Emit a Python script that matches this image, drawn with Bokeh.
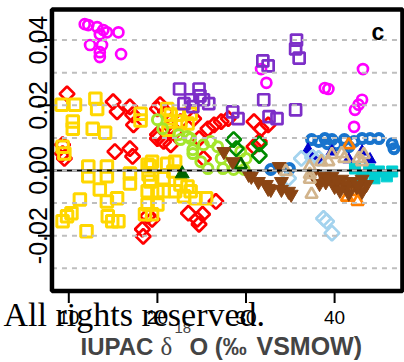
import numpy as np
from bokeh.plotting import figure
from bokeh.models import Label, Range1d
from bokeh.core.properties import value
from bokeh.embed import file_html
from bokeh.resources import INLINE

# ---------------- data ----------------
x_ticks = [10, 20, 30, 40]
x_tick_labels = ["10", "20", "30", "40"]
y_ticks = [-0.02, 0.0, 0.02, 0.04]
y_tick_labels = ["-0.02", "0.00", "0.02", "0.04"]
grid_levels = [-0.03, -0.02, -0.01, 0.0, 0.01, 0.02, 0.03, 0.04]
x_lim = [8.10, 47.66]      # plot box limits (x)
y_lim = [-0.0370, 0.0494]  # plot box limits (y)

magenta_x = [11.8, 12.2, 13.2, 13.9, 14.3, 13.5, 15.6, 12.4, 13.75, 13.5, 13.5, 15.9,
             31.7, 32.3, 38.9, 39.3, 43.2, 43.1, 42.7, 42.3, 42.2]
magenta_y = [0.0449, 0.0446, 0.0440, 0.0431, 0.0424, 0.0418, 0.0424, 0.0385, 0.0385, 0.0363, 0.0348, 0.0357,
             0.0311, 0.0269, 0.0253, 0.0250, 0.0311, 0.0217, 0.0202, 0.0186, 0.0134]

purple_x = [22.5, 24.7, 24.8, 23.75, 25.2, 25.8, 28.5, 29.1, 31.9, 32.5, 32.0, 32.6, 33.5,
            35.7, 35.6, 36.0, 35.6, 23.0, 24.0]
purple_y = [0.0250, 0.0250, 0.0229, 0.0217, 0.0217, 0.0205, 0.0180, 0.0159, 0.0336, 0.0321, 0.0217, 0.0165, 0.0159,
            0.0400, 0.0373, 0.0345, 0.0186, 0.0205, 0.0196]

red_x = [9.8, 9.5, 9.3, 9.3, 15.0, 15.45, 16.9, 17.2, 17.3, 15.2, 16.9, 17.2,
         20.0, 20.0, 20.7, 20.0, 20.3, 21.5, 24.1, 25.7, 26.4, 27.2, 28.0, 24.7, 25.2,
         30.9, 31.7, 32.5, 30.9, 31.5, 26.6, 23.5, 24.5, 25.1, 24.7, 18.3, 18.4, 19.4, 18.9,
         20.9, 21.5, 22.0, 22.6]
red_y = [0.0235, 0.0037, 0.0079, 0.0052, 0.0211, 0.0180, 0.0195, 0.0171, 0.0140, 0.0058, 0.0067, 0.0043,
         0.0189, 0.0110, 0.0089, 0.0098, 0.0202, 0.0079, 0.0159, 0.0128, 0.0140, 0.0150, 0.0159, 0.0098, 0.0037,
         0.0150, 0.0128, 0.0140, 0.0073, 0.0089, -0.0095, -0.0131, -0.0150, -0.0134, -0.0165, -0.0180, -0.0202, -0.0150, -0.0140,
         0.0180, 0.0134, 0.0119, 0.0150]

gold_x = [9.2, 10.7, 13.0, 13.2, 10.45, 10.45, 12.7, 14.1, 9.3, 9.5,
          18.1, 18.1, 19.4, 19.2, 22.0, 21.1, 21.5, 22.3, 23.75, 21.5,
          22.6, 23.4, 21.25, 12.2, 12.2, 14.3, 14.3, 12.0, 9.8, 9.3,
          10.3, 11.25, 13.5, 14.3, 15.45, 14.4, 14.9, 15.6, 16.9, 16.9,
          18.9, 19.0, 19.2, 18.9, 20.0, 18.9, 20.0, 18.6, 19.4, 20.7,
          21.1, 21.8, 22.6, 23.4, 23.75, 23.0, 24.3, 25.5, 20.7, 22.0]
gold_y = [0.0202, 0.0202, 0.0220, 0.0189, 0.0150, 0.0128, 0.0128, 0.0116, 0.0073, 0.0052,
          0.0174, 0.0153, 0.0027, 0.0012, 0.0027, 0.0189, 0.0171, 0.0171, 0.0174, 0.0150,
          0.0150, 0.0144, 0.0125, 0.0012, -0.0018, 0.0012, -0.0018, -0.0186, -0.0140, -0.0156,
          -0.0131, -0.0089, -0.0058, -0.0095, -0.0085, -0.0140, -0.0156, -0.0156, -0.0009, -0.0040,
          0.0018, -0.0012, -0.0034, -0.0064, -0.0064, -0.0104, -0.0104, -0.0134, -0.0134, -0.0024,
          0.0021, -0.0003, -0.0043, -0.0049, -0.0064, -0.0079, -0.0085, -0.0085, -0.0064, -0.0064]

lgreen_x = [20.0, 20.6, 22.4, 22.6, 23.75, 24.0, 23.4, 25.2, 26.0, 26.8, 25.7, 27.4, 28.6, 29.8, 29.4, 30.0, 24.0, 27.2, 24.9]
lgreen_y = [0.0156, 0.0128, 0.0110, 0.0095, 0.0098, 0.0064, 0.0104, 0.0079, 0.0089, 0.0073, 0.0006, 0.0006, 0.0003, 0.0003,
            0.0058, 0.0037, 0.0052, 0.0037, 0.0027]

dgreen_dia_x = [28.6, 28.9, 31.5, 31.5]
dgreen_dia_y = [0.0095, 0.0067, 0.0082, 0.0046]
dgreen_tri_x = [29.4]
dgreen_tri_y = [0.0018]
dgreen_fill_x = [22.8]
dgreen_fill_y = [-0.0010]

blue_x = [38.2, 38.9, 39.7, 40.2, 41.1, 42.2, 43.1, 44.0, 45.0, 46.5, 46.7, 41.6, 32.8, 34.9, 39.2, 37.4]
blue_y = [0.0089, 0.0098, 0.0095, 0.0079, 0.0095, 0.0089, 0.0098, 0.0098, 0.0098, 0.0082, 0.0067, 0.0073,
          0.0003, 0.0006, 0.0082, 0.0095]

dblue_x = [37.0, 37.6, 39.7, 41.6, 44.0, 43.1, 38.5]
dblue_y = [0.0064, 0.0043, 0.0058, 0.0034, 0.0034, 0.0058, 0.0027]

lblue_x = [36.25, 38.2, 38.75, 39.1, 39.7, 34.8, 37.5]
lblue_y = [0.0037, 0.0037, -0.0147, -0.0156, -0.0192, -0.0024, 0.0040]

tan_x = [37.2, 39.7, 40.8, 41.1, 42.7, 43.3, 43.1, 39.3, 37.2, 37.2, 37.4, 38.5, 34.5]
tan_y = [0.0012, 0.0049, 0.0052, 0.0037, 0.0037, 0.0049, 0.0027, 0.0027, -0.0012, -0.0027, -0.0073, 0.0027, -0.0003]

brown_x = [27.5, 28.5, 30.3, 30.6, 32.3, 32.8, 34.0, 33.75, 35.1, 34.8,
           34.0, 38.75, 39.7, 40.8, 41.9, 43.1, 40.0, 41.6, 43.1, 43.6,
           38.3, 31.4, 32.5, 37.5, 39.0, 42.5, 39.2, 40.3, 41.4, 42.6, 40.6]
brown_y = [0.0058, 0.0027, -0.0012, -0.0018, -0.0043, -0.0058, -0.0034, 0.0012, -0.0073, -0.0064,
           -0.0058, -0.0018, -0.0018, -0.0027, -0.0034, -0.0027, -0.0049, -0.0070, -0.0064, -0.0043,
           -0.0040, -0.0034, -0.0055, -0.0010, -0.0035, -0.0050, -0.0024, -0.0030, -0.0046, -0.0046, -0.0061]

cyan_x = [42.3, 43.9, 45.0, 46.5, 45.9, 44.5, 43.1]
cyan_y = [0.0006, 0.0003, -0.0003, -0.0003, -0.0018, -0.0024, -0.0018]

orange_x = [41.6, 41.4, 42.6, 41.9]
orange_y = [0.0079, -0.0082, -0.0095, -0.0064]


# canvas pixel -> data helpers (used only for placing texts and tick lengths)
def dx(px):
    return 10 + (px - 68.3) / 8.86


def dy(py):
    return (170 - py) / 3260


def base_y(py, size):
    # place a text so that its baseline lands at canvas row py
    return dy(py - 0.34 * size)


W, H = 404, 362
p = figure(width=W, height=H, output_backend="svg", toolbar_location=None,
           x_axis_type=None, y_axis_type=None,
           x_range=Range1d(dx(0), dx(W)), y_range=Range1d(dy(H), dy(0)),
           min_border=0)
p.outline_line_color = None
p.background_fill_color = "white"
p.border_fill_color = "white"
p.grid.visible = False

LW = 2.7
# ---------------- series ----------------
p.scatter(red_x, red_y, marker="square", angle=np.pi / 4, size=10.5, fill_color=None,
          line_color="#FF0000", line_width=LW)
p.scatter(gold_x, gold_y, marker="square", size=11.5, fill_color=None,
          line_color="#FFD700", line_width=3)
p.scatter(magenta_x, magenta_y, marker="circle", size=10, fill_color=None,
          line_color="#FF00FF", line_width=LW)
p.scatter(purple_x, purple_y, marker="square", size=11, fill_color=None,
          line_color="#7D2FC8", line_width=LW)
p.scatter(lgreen_x, lgreen_y, marker="circle", size=10, fill_color=None,
          line_color="#A4E62C", line_width=3)
p.scatter(dgreen_dia_x, dgreen_dia_y, marker="square", angle=np.pi / 4, size=10.5, fill_color=None,
          line_color="#008B00", line_width=LW)
p.scatter(dgreen_tri_x, dgreen_tri_y, marker="triangle", size=12, fill_color=None,
          line_color="#006400", line_width=LW)
p.scatter(dgreen_fill_x, dgreen_fill_y, marker="triangle", size=14, fill_color="#006400",
          line_color="#006400", line_width=1)
p.scatter(blue_x, blue_y, marker="circle", size=9, fill_color=None,
          line_color="#1874CD", line_width=4)
p.scatter(dblue_x, dblue_y, marker="triangle", size=12, fill_color="#0000CD",
          line_color="#0000CD", line_width=1)
p.scatter(lblue_x, lblue_y, marker="square", angle=np.pi / 4, size=10.5, fill_color=None,
          line_color="#A4D3EE", line_width=LW)
p.scatter(cyan_x, cyan_y, marker="square", size=11, fill_color="#00CED1",
          line_color="#00CED1", line_width=1)
p.scatter(orange_x, orange_y, marker="triangle", size=12, fill_color=None,
          line_color="#FF7F00", line_width=LW)
p.scatter(brown_x, brown_y, marker="inverted_triangle", size=14, fill_color="#8B4513",
          line_color="#8B4513", line_width=1)
p.scatter(tan_x, tan_y, marker="triangle", size=12, fill_color=None,
          line_color="#D2B48C", line_width=LW)

# ---------------- zero line + dashed grid over the points ----------------
p.segment(x0=[x_lim[0]], x1=[x_lim[1]], y0=[0.0], y1=[0.0], line_color="black", line_width=2)
p.segment(x0=[x_lim[0]] * len(grid_levels), x1=[x_lim[1]] * len(grid_levels),
          y0=grid_levels, y1=grid_levels, line_color="#BEBEBE", line_width=2, line_dash="5 5")

# ---------------- plot box ----------------
p.quad(left=[x_lim[0]], right=[x_lim[1]], bottom=[y_lim[0]], top=[y_lim[1]],
       fill_color=None, line_color="black", line_width=4.5)

# ---------------- ticks and tick labels ----------------
xt_len = 12 / 3260
yt_len = 14 / 8.86
p.segment(x0=x_ticks, x1=x_ticks, y0=[y_lim[0]] * 4, y1=[y_lim[0] - xt_len] * 4,
          line_color="black", line_width=2)
p.segment(x0=[x_lim[0]] * 4, x1=[x_lim[0] - yt_len] * 4, y0=y_ticks, y1=y_ticks,
          line_color="black", line_width=2)
p.text(x=x_ticks, y=[base_y(323, 19)] * 4, text=x_tick_labels, text_align="center",
       text_baseline="alphabetic", text_font=value("Liberation Sans"),
       text_font_size=value("19px"), text_color="black")
p.text(x=[dx(37)] * 4, y=y_ticks, text=y_tick_labels, angle=np.pi / 2, text_align="center",
       text_baseline="alphabetic", text_font=value("Liberation Sans Narrow, Liberation Sans"),
       text_font_size=value("25px"), text_color="black")

# ---------------- panel letter ----------------
p.add_layout(Label(x=dx(377.5), y=base_y(39, 23), text="c", text_font="Liberation Sans",
                   text_font_style="bold", text_font_size="23px", text_align="center",
                   text_baseline="alphabetic", text_color="black"))

# ---------------- x-axis title (with superscript) ----------------
p.add_layout(Label(x=dx(80), y=base_y(354, 24), text="IUPAC", text_font="Liberation Sans",
                   text_font_style="bold", text_font_size="24px", text_baseline="alphabetic"))
p.add_layout(Label(x=dx(160), y=base_y(354, 25), text="δ", text_font="Liberation Serif",
                   text_font_size="25px", text_baseline="alphabetic"))
p.add_layout(Label(x=dx(174), y=base_y(333, 15), text="18", text_font="Liberation Sans",
                   text_font_size="15px", text_baseline="alphabetic"))
p.add_layout(Label(x=dx(189), y=base_y(354, 24), text="O (‰", text_font="Liberation Sans",
                   text_font_style="bold", text_font_size="24px", text_baseline="alphabetic"))
p.add_layout(Label(x=dx(256), y=base_y(354, 25), text="VSMOW)", text_font="Liberation Sans",
                   text_font_style="bold", text_font_size="25px", text_baseline="alphabetic"))

# ---------------- watermark ----------------
p.add_layout(Label(x=dx(3), y=base_y(326, 34), text="All rights reserved.", text_font="Liberation Serif",
                   text_font_size="34px", text_baseline="alphabetic", text_color="black"))

open("out.html", "w").write(file_html(p, INLINE))
